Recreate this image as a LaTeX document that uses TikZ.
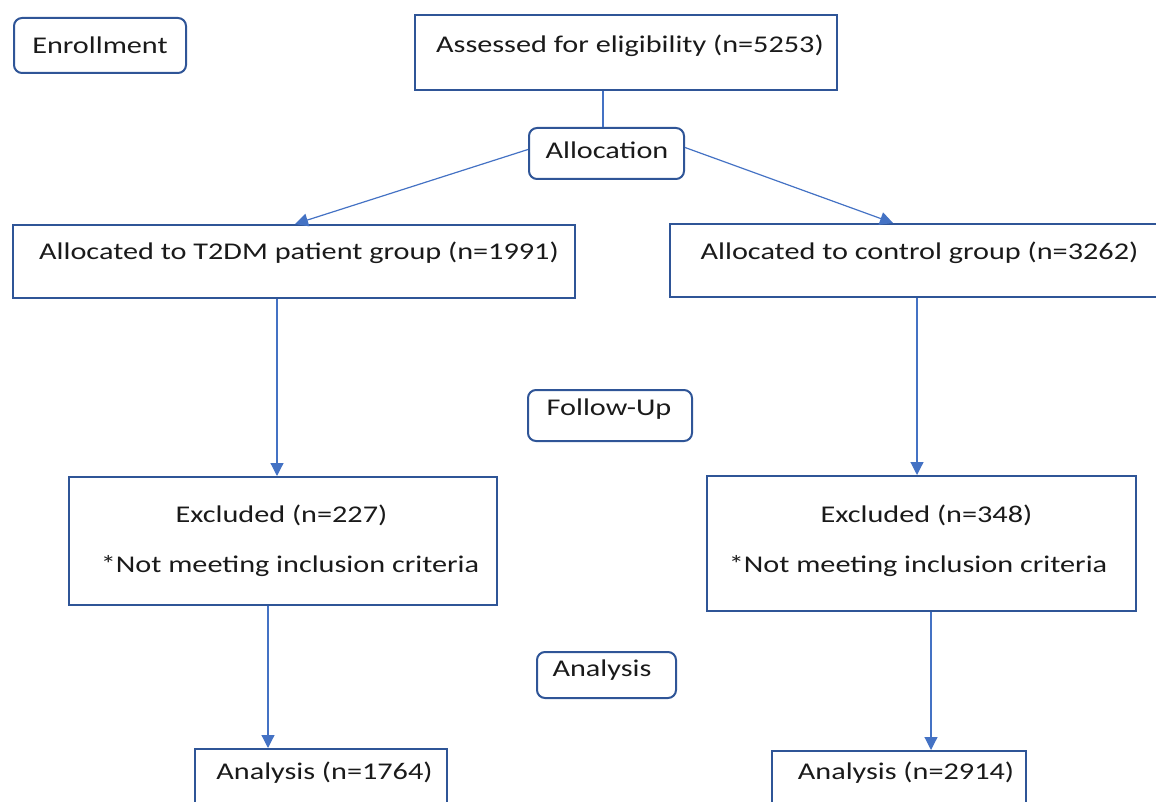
\documentclass[tikz,border=0pt]{standalone}
\usepackage{fontspec}
\setmainfont{Carlito}
\usetikzlibrary{arrows.meta,calc}
\definecolor{boxblue}{HTML}{2F5597}
\definecolor{arrowblue}{HTML}{4472C4}
\definecolor{txt}{HTML}{1A1A1A}
\newcommand{\wide}[1]{\scalebox{1.26}[1]{#1}}
\begin{document}
\begin{tikzpicture}[x=1pt,y=-1pt,
  sqbox/.style={draw=boxblue,line width=2pt,inner sep=0pt,anchor=north west},
  rbox/.style={draw=boxblue,line width=2pt,rounded corners=8pt,inner sep=0pt,anchor=north west},
  lbl/.style={text=txt,font=\fontsize{24}{28}\selectfont,inner sep=0pt,anchor=center},
  conn/.style={draw=arrowblue,line width=1.2pt},
  arr/.style={conn,-{Triangle[width=13pt,length=13pt]}}]
\useasboundingbox (0,0) rectangle (1156,802);
\clip (0,0) rectangle (1156,802);
% boxes
\node[rbox,minimum width=172pt,minimum height=55pt] (enr) at (13,17) {};
\node[sqbox,minimum width=422pt,minimum height=75pt] (ass) at (414,14) {};
\node[rbox,minimum width=155pt,minimum height=51pt] (alo) at (528,127) {};
\node[sqbox,minimum width=562pt,minimum height=73pt] (t2) at (12,224) {};
\node[sqbox,minimum width=520pt,minimum height=73pt] (ct) at (669,223) {};
\node[rbox,minimum width=164pt,minimum height=51pt] (fu) at (527,389) {};
\node[sqbox,minimum width=428pt,minimum height=128pt] (exL) at (68,476) {};
\node[sqbox,minimum width=429pt,minimum height=135pt] (exR) at (706,475) {};
\node[rbox,minimum width=139pt,minimum height=46pt] (an) at (536,651) {};
\node[sqbox,minimum width=252pt,minimum height=90pt] (anL) at (194,748) {};
\node[sqbox,minimum width=254pt,minimum height=90pt] (anR) at (771,750) {};
% texts
\node[lbl] (tenr) at (100,45) {\wide{Enrollment}};
\node[lbl] (tass) at (630,46) {\wide{Assessed for eligibility (n=5253)}};
\node[lbl] (talo) at (607,150) {\wide{Allocation}};
\node[lbl] (tt2) at (299,253) {\wide{Allocated to T2DM patient group (n=1991)}};
\node[lbl] (tct) at (919.5,253) {\wide{Allocated to control group (n=3262)}};
\node[lbl] (tfu) at (609,409) {\wide{Follow-Up}};
\node[lbl] (texL1) at (281.5,515) {\wide{Excluded (n=227)}};
\node[lbl] (texL2) at (290,566) {\wide{*Not meeting inclusion criteria}};
\node[lbl] (texR1) at (926.5,515) {\wide{Excluded (n=348)}};
\node[lbl] (texR2) at (918,566) {\wide{*Not meeting inclusion criteria}};
\node[lbl] (tan) at (602,670) {\wide{Analysis}};
\node[lbl] (tanL) at (324.5,773) {\wide{Analysis (n=1764)}};
\node[lbl] (tanR) at (906,773) {\wide{Analysis (n=2914)}};
% connectors
\draw[conn] (ass.south -| 603,0) -- (alo.north -| 603,0);
\draw[arr] ([yshift=4pt]alo.west) -- (t2.north -| 295,0);
\draw[arr] ([yshift=6pt]alo.east) -- (ct.north -| 893,0);
\draw[arr] (t2.south -| 277,0) -- (exL.north -| 277,0);
\draw[arr] (ct.south -| 917,0) -- (exR.north -| 917,0);
\draw[arr] (exL.south -| 268,0) -- (anL.north -| 268,0);
\draw[arr] (exR.south -| 931,0) -- (anR.north -| 931,0);
\end{tikzpicture}
\end{document}
